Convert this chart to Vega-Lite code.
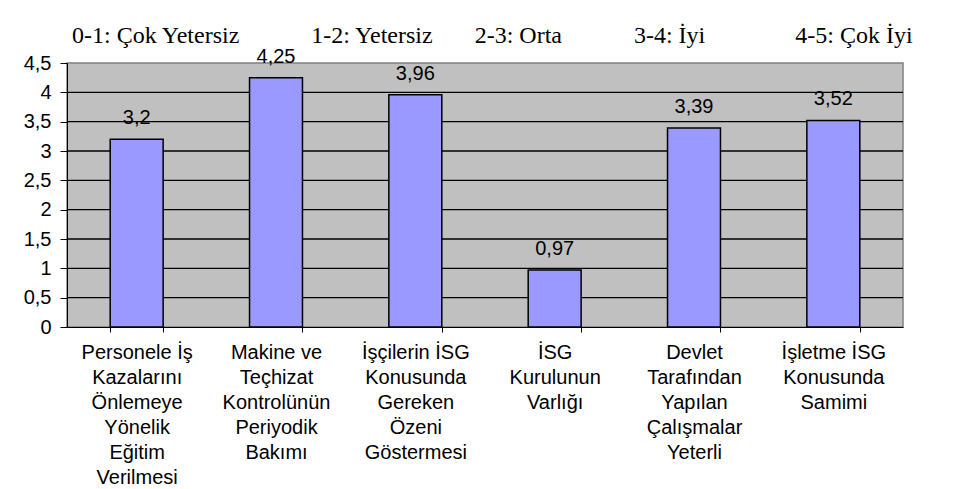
{
  "$schema": "https://vega.github.io/schema/vega-lite/v6.json",
  "autosize": "none",
  "width": 836,
  "height": 264,
  "padding": {"left": 67, "top": 63, "right": 51, "bottom": 162},
  "background": "white",
  "title": {
    "text": "0-1: Çok Yetersiz\u00a0\u00a0\u00a0\u00a0\u00a0\u00a0\u00a0\u00a0\u00a0\u00a0\u00a0\u00a01-2: Yetersiz\u00a0\u00a0\u00a0\u00a0\u00a0\u00a0\u00a02-3: Orta\u00a0\u00a0\u00a0\u00a0\u00a0\u00a0\u00a0\u00a0\u00a0\u00a0\u00a0\u00a03-4: İyi\u00a0\u00a0\u00a0\u00a0\u00a0\u00a0\u00a0\u00a0\u00a0\u00a0\u00a0\u00a0\u00a0\u00a0\u00a04-5: Çok İyi",
    "anchor": "start",
    "frame": "group",
    "dx": 5,
    "offset": -20,
    "baseline": "alphabetic",
    "font": "Liberation Serif",
    "fontSize": 24,
    "fontWeight": "normal",
    "color": "black"
  },
  "datasets": {
    "puanlar": [
      {"kategori": "Personele İş|Kazalarını|Önlemeye|Yönelik|Eğitim|Verilmesi", "puan": 3.2},
      {"kategori": "Makine ve|Teçhizat|Kontrolünün|Periyodik|Bakımı", "puan": 4.25},
      {"kategori": "İşçilerin İSG|Konusunda|Gereken|Özeni|Göstermesi", "puan": 3.96},
      {"kategori": "İSG|Kurulunun|Varlığı", "puan": 0.97},
      {"kategori": "Devlet|Tarafından|Yapılan|Çalışmalar|Yeterli", "puan": 3.39},
      {"kategori": "İşletme İSG|Konusunda|Samimi", "puan": 3.52}
    ],
    "izgara": [
      {"deger": 0.5}, {"deger": 1}, {"deger": 1.5}, {"deger": 2},
      {"deger": 2.5}, {"deger": 3}, {"deger": 3.5}, {"deger": 4}
    ]
  },
  "resolve": {"axis": {"y": "independent"}},
  "layer": [
    {
      "data": {"name": "izgara"},
      "mark": {"type": "rule", "color": "black", "strokeWidth": 1.3},
      "encoding": {
        "y": {"field": "deger", "type": "quantitative", "scale": {"domain": [0, 4.5], "nice": false}, "axis": null}
      }
    },
    {
      "data": {"name": "puanlar"},
      "encoding": {
        "x": {
          "field": "kategori",
          "type": "nominal",
          "sort": null,
          "scale": {"paddingInner": 0.62, "paddingOuter": 0.31},
          "axis": {
            "title": null,
            "labelAngle": 0,
            "labelExpr": "split(datum.label, '|')",
            "labelLineHeight": 25,
            "labelFont": "Liberation Sans",
            "labelFontSize": 20,
            "labelColor": "black",
            "labelPadding": 10,
            "labelLimit": 300,
            "tickBand": "extent",
            "tickSize": 5,
            "tickColor": "black",
            "domainColor": "black",
            "grid": false
          }
        },
        "y": {
          "field": "puan",
          "type": "quantitative",
          "scale": {"domain": [0, 4.5], "nice": false},
          "axis": {
            "title": null,
            "values": [0, 0.5, 1, 1.5, 2, 2.5, 3, 3.5, 4, 4.5],
            "format": "~g",
            "labelFont": "Liberation Sans",
            "labelFontSize": 20,
            "labelColor": "black",
            "labelPadding": 9,
            "labelOverlap": false,
            "tickSize": 7,
            "tickColor": "black",
            "domainColor": "black",
            "grid": false
          }
        }
      },
      "layer": [
        {
          "mark": {"type": "bar", "color": "#9999ff", "stroke": "black", "strokeWidth": 1.5}
        },
        {
          "mark": {"type": "text", "baseline": "alphabetic", "dy": -15, "font": "Liberation Sans", "fontSize": 20, "color": "black"},
          "encoding": {
            "text": {"field": "puan", "type": "quantitative", "format": "~g"}
          }
        }
      ]
    }
  ],
  "config": {
    "locale": {"number": {"decimal": ",", "thousands": ".", "grouping": [3], "currency": ["", " TL"]}},
    "view": {"fill": "#c0c0c0", "stroke": "#808080", "strokeWidth": 1.5}
  }
}
